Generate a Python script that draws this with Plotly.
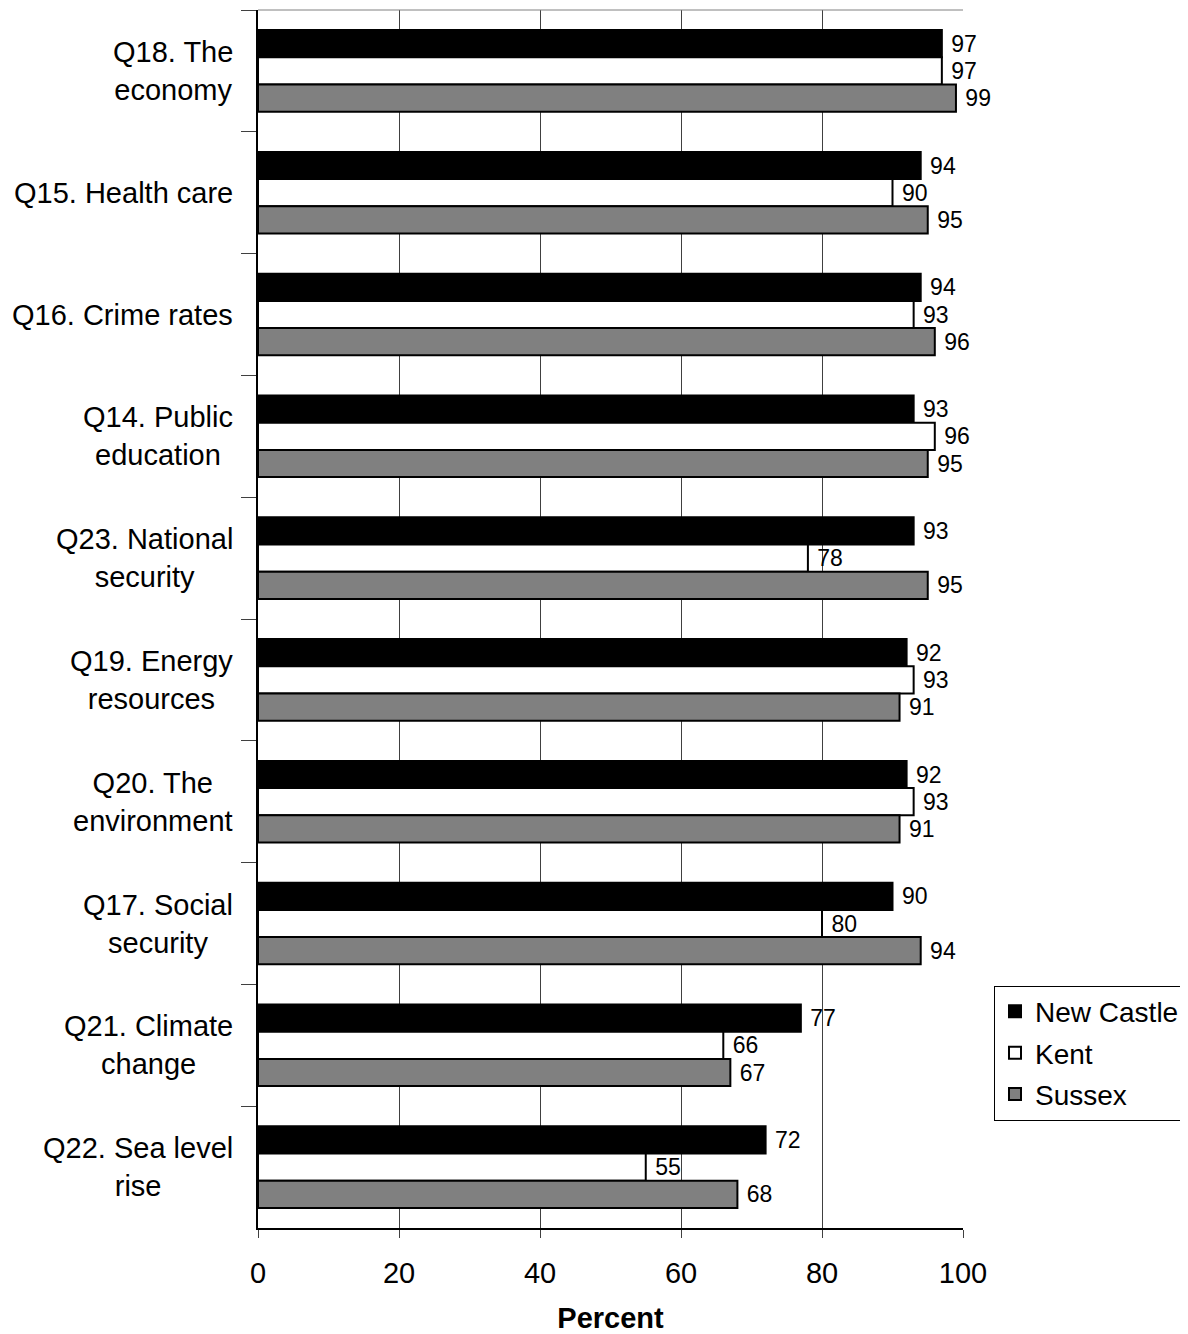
import plotly.graph_objects as go

categories = ["Q18. The<br>economy", "Q15. Health care", "Q16. Crime rates",
              "Q14. Public<br>education", "Q23. National<br>security",
              "Q19. Energy<br>resources", "Q20. The<br>environment",
              "Q17. Social<br>security", "Q21. Climate<br>change",
              "Q22. Sea level<br>rise"]
cat_keys = ["Q18", "Q15", "Q16", "Q14", "Q23", "Q19", "Q20", "Q17", "Q21", "Q22"]
new_castle = [97, 94, 94, 93, 93, 92, 92, 90, 77, 72]
kent = [97, 90, 93, 96, 78, 93, 93, 80, 66, 55]
sussex = [99, 95, 96, 95, 95, 91, 91, 94, 67, 68]
series_names = ["New Castle", "Kent", "Sussex"]
colors = ["#000000", "#ffffff", "#808080"]
x_ticks = [0, 20, 40, 60, 80, 100]

FONT = "Liberation Sans, Arial, sans-serif"

fig = go.Figure()
for name, vals, col in zip(series_names, [new_castle, kent, sussex], colors):
    fig.add_trace(go.Bar(
        y=cat_keys, x=vals, name=name, orientation="h", legendgroup=name,
        marker=dict(color=col, line=dict(color="#000000", width=2)),
        text=[" " + str(v) for v in vals], textposition="outside",
        textfont=dict(size=23, color="#000000", family=FONT),
        cliponaxis=False, constraintext="none",
    ))

annotations = []
for key, label in zip(cat_keys, categories):
    annotations.append(dict(
        x=0, xref="paper", xshift=-23, y=key, yref="y",
        text=label, showarrow=False, xanchor="right", yanchor="middle",
        align="center", font=dict(size=29, color="#000000", family=FONT)))

fig.update_layout(
    width=1180, height=1326,
    margin=dict(l=250, r=225, t=2, b=106),
    paper_bgcolor="white", plot_bgcolor="white",
    barmode="group", bargap=0.33, bargroupgap=0,
    font=dict(family=FONT, size=24, color="#000000"),
    annotations=annotations,
    legend=dict(x=1.044, y=0.199, xanchor="left", yanchor="top",
                bordercolor="#000000", borderwidth=1,
                font=dict(size=28, family=FONT), traceorder="grouped",
                itemwidth=30, tracegroupgap=2),
    xaxis=dict(range=[0, 100], tickvals=x_ticks, showgrid=True,
               gridcolor="#404040", gridwidth=1, showline=True,
               linecolor="#000000", linewidth=2, ticks="outside",
               ticklen=8, tickcolor="#404040",
               tickfont=dict(size=29, family=FONT),
               ticklabelstandoff=10,
               title=dict(text="<b>Percent</b>", font=dict(size=29, family=FONT),
                          standoff=22),
               zeroline=False, fixedrange=True),
    yaxis=dict(autorange="reversed", type="category", showticklabels=False,
               ticks="outside", ticklen=15, tickcolor="#404040",
               tickson="boundaries", showline=True, linecolor="#000000",
               linewidth=2, showgrid=False, zeroline=False),
    shapes=[dict(type="line", xref="paper", yref="paper", x0=0, x1=1, y0=1, y1=1,
                 line=dict(color="#808080", width=1))],
)

fig.write_html("out.html")
